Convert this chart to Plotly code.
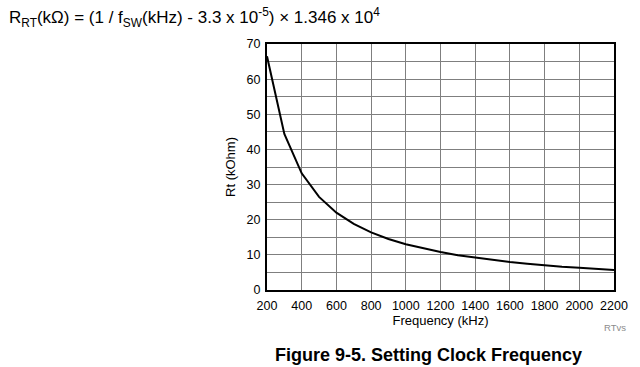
import plotly.graph_objects as go

freq_khz = [200, 300, 400, 500, 600, 700, 800, 900, 1000, 1100, 1200, 1300, 1400,
            1500, 1600, 1700, 1800, 1900, 2000, 2100, 2200]
rt_kohm = [66.5, 44.4, 33.2, 26.5, 22.0, 18.8, 16.4, 14.5, 13.0, 11.8, 10.8, 9.9, 9.2,
           8.5, 8.0, 7.5, 7.0, 6.6, 6.3, 6.0, 5.7]
x_ticks = [200, 400, 600, 800, 1000, 1200, 1400, 1600, 1800, 2000, 2200]
y_ticks = [0, 10, 20, 30, 40, 50, 60, 70]

FONT = "Liberation Sans, Arial, sans-serif"
L, R, T, B = 267, 26, 44, 77
PW, PH = 640 - L - R, 367 - T - B

fig = go.Figure()
fig.add_trace(go.Scatter(x=freq_khz, y=rt_kohm, mode="lines",
                         line=dict(color="black", width=2), showlegend=False,
                         hoverinfo="skip"))

fig.update_layout(
    width=640, height=367,
    margin=dict(l=L, r=R, t=T, b=B, autoexpand=False),
    paper_bgcolor="white", plot_bgcolor="white",
    font=dict(family=FONT, size=12, color="black"),
    xaxis=dict(range=[200, 2200], tickvals=x_ticks, showgrid=True,
               gridcolor="#7f7f7f", gridwidth=1, showline=True, linecolor="black",
               linewidth=2, mirror=True, ticks="", zeroline=False,
               ticklabelstandoff=3,
               title=dict(text="Frequency (kHz)", standoff=3,
                          font=dict(size=13, family=FONT)),
               tickfont=dict(size=12.5, family=FONT)),
    yaxis=dict(range=[0, 70], tickvals=y_ticks, showgrid=True,
               gridcolor="#7f7f7f", gridwidth=1, showline=True, linecolor="black",
               linewidth=2, mirror=True, ticks="", zeroline=False,
               ticklabelstandoff=2,
               minor=dict(dtick=5, showgrid=True, gridcolor="#7f7f7f", gridwidth=1, ticks=""),
               title=dict(text="Rt (kOhm)", standoff=8,
                          font=dict(size=13, family=FONT)),
               tickfont=dict(size=12.5, family=FONT)),
)

fig.add_annotation(
    text="R<sub>RT</sub>(kΩ) = (1 / f<sub>SW</sub>(kHz) - 3.3 x 10<sup>-5</sup>) × 1.346 x 10<sup>4</sup>",
    xref="paper", yref="paper", x=(7 - L) / PW, y=1 + (T - 18) / PH,
    xanchor="left", yanchor="middle",
    showarrow=False, font=dict(size=17, family=FONT, color="black"))

fig.add_annotation(
    text="RTvs", xref="paper", yref="paper", x=(628 - L) / PW, y=-(327 - (367 - B)) / PH,
    xanchor="right", yanchor="middle", showarrow=False,
    font=dict(size=9.5, family=FONT, color="#8c8c8c"))

fig.add_annotation(
    text="<b>Figure 9-5. Setting Clock Frequency</b>", xref="paper", yref="paper",
    x=(428 - L) / PW, y=-(355 - (367 - B)) / PH, xanchor="center", yanchor="middle",
    showarrow=False, font=dict(size=18, family=FONT, color="black"))

fig.write_html("out.html", config={"displayModeBar": False},
               post_script="document.body.style.margin='0px';document.body.style.overflow='hidden';")
